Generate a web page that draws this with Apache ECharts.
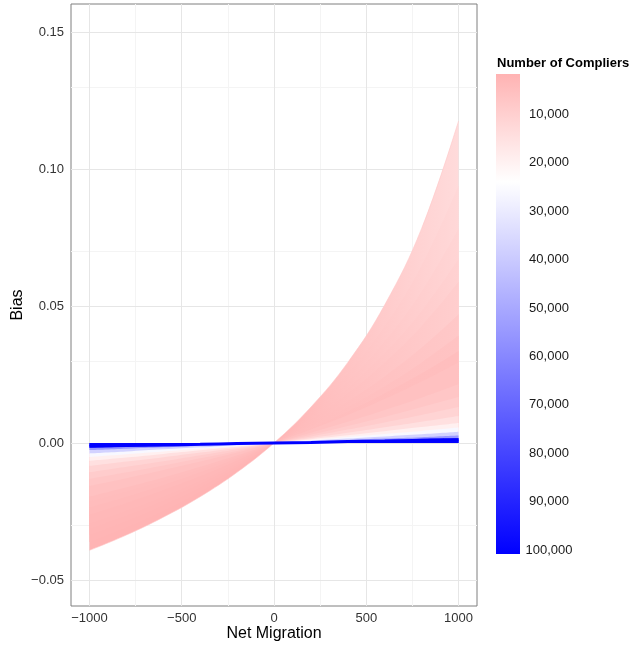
<!DOCTYPE html>
<html lang="en">
<head>
<meta charset="UTF-8">
<title>Bias by Net Migration</title>
<script src="https://cdn.jsdelivr.net/npm/echarts@6.0.0/dist/echarts.min.js"></script>
<style>
  html, body { margin: 0; padding: 0; background: #fff; }
  #main { width: 633px; height: 652px; }
</style>
</head>
<body>
<div id="main"></div>
<script>
// x values of every curve
var migration = [-1000, -800, -600, -400, -200, 0, 200, 400, 600, 800, 1000];
// one curve per number of compliers
var compliers = [2000, 2250, 2500, 2750, 3000, 3500, 4000, 4500, 5000, 6500, 8000, 10000, 13000, 17000, 22000, 30000, 45000, 65000, 100000];
// bias, one row per compliers value
var bias = [
    [-0.0392, -0.0336, -0.0271, -0.0196, -0.0107, 0, 0.0131, 0.0294, 0.0504, 0.0783, 0.1175],
    [-0.0362, -0.0308, -0.0247, -0.0177, -0.0096, 0, 0.0115, 0.0254, 0.0427, 0.0648, 0.0940],
    [-0.0336, -0.0285, -0.0227, -0.0162, -0.0087, 0, 0.0102, 0.0224, 0.0371, 0.0553, 0.0783],
    [-0.0313, -0.0265, -0.0210, -0.0149, -0.0080, 0, 0.0092, 0.0200, 0.0328, 0.0482, 0.0671],
    [-0.0294, -0.0247, -0.0196, -0.0138, -0.0073, 0, 0.0084, 0.0181, 0.0294, 0.0427, 0.0588],
    [-0.0261, -0.0219, -0.0172, -0.0121, -0.0064, 0, 0.0071, 0.0152, 0.0243, 0.0348, 0.0470],
    [-0.0235, -0.0196, -0.0153, -0.0107, -0.0056, 0, 0.0062, 0.0131, 0.0207, 0.0294, 0.0392],
    [-0.0214, -0.0177, -0.0138, -0.0096, -0.0050, 0, 0.0055, 0.0115, 0.0181, 0.0254, 0.0336],
    [-0.0196, -0.0162, -0.0126, -0.0087, -0.0045, 0, 0.0049, 0.0102, 0.0160, 0.0224, 0.0294],
    [-0.0157, -0.0129, -0.0099, -0.0068, -0.0035, 0, 0.0037, 0.0077, 0.0120, 0.0165, 0.0214],
    [-0.0131, -0.0107, -0.0082, -0.0056, -0.0029, 0, 0.0030, 0.0062, 0.0095, 0.0131, 0.0168],
    [-0.0107, -0.0087, -0.0067, -0.0045, -0.0023, 0, 0.0024, 0.0049, 0.0075, 0.0102, 0.0131],
    [-0.0084, -0.0068, -0.0052, -0.0035, -0.0018, 0, 0.0018, 0.0037, 0.0057, 0.0077, 0.0098],
    [-0.0065, -0.0053, -0.0040, -0.0027, -0.0014, 0, 0.0014, 0.0028, 0.0043, 0.0058, 0.0073],
    [-0.0051, -0.0041, -0.0031, -0.0021, -0.0011, 0, 0.0011, 0.0022, 0.0033, 0.0044, 0.0056],
    [-0.0038, -0.0031, -0.0023, -0.0016, -0.0008, 0, 0.0008, 0.0016, 0.0024, 0.0032, 0.0041],
    [-0.0026, -0.0021, -0.0016, -0.0010, -0.0005, 0, 0.0005, 0.0011, 0.0016, 0.0021, 0.0027],
    [-0.0018, -0.0014, -0.0011, -0.0007, -0.0004, 0, 0.0004, 0.0007, 0.0011, 0.0015, 0.0018],
    [-0.0012, -0.0009, -0.0007, -0.0005, -0.0002, 0, 0.0002, 0.0005, 0.0007, 0.0010, 0.0012]
];
var xTicks = [-1000, -500, 0, 500, 1000];
var xMinor = [-750, -250, 250, 750];
var yTicks = [-0.05, 0, 0.05, 0.10, 0.15];
var yMinor = [-0.025, 0.025, 0.075, 0.125];
var legendTicks = [10000, 20000, 30000, 40000, 50000, 60000, 70000, 80000, 90000, 100000];

// colour scale: pink -> white -> blue
var cbLow = 1742, cbMid = 24000, cbHigh = 100826;
function colorAt(n) {
    var v;
    if (n <= cbMid) {
        var t = Math.max(0, (n - cbLow) / (cbMid - cbLow));
        v = Math.round(179 + 76 * t);
        return 'rgb(255,' + v + ',' + v + ')';
    }
    var s = Math.min(1, (n - cbMid) / (cbHigh - cbMid));
    v = Math.round(255 * (1 - s));
    return 'rgb(' + v + ',' + v + ',255)';
}
function lighter(n, k) {
    var c = colorAt(n).match(/\d+/g).map(Number);
    return 'rgb(' + c.map(function (x) { return Math.round(x + (255 - x) * k); }).join(',') + ')';
}
function signed(v, d) {
    return (v < 0 ? '\u2212' : '') + Math.abs(v).toFixed(d);
}

var myChart = echarts.init(document.getElementById('main'));

var gridLines = [];
xMinor.forEach(function (v) { gridLines.push({xAxis: v, lineStyle: {color: '#F4F4F4', width: 1}}); });
yMinor.forEach(function (v) { gridLines.push({yAxis: v, lineStyle: {color: '#F4F4F4', width: 1}}); });
xTicks.forEach(function (v) { gridLines.push({xAxis: v, lineStyle: {color: '#E6E6E6', width: 1}}); });
yTicks.forEach(function (v) { gridLines.push({yAxis: v, lineStyle: {color: '#E6E6E6', width: 1}}); });

var series = [{
    type: 'line',
    data: [],
    z: 1,
    silent: true,
    markLine: {
        silent: true,
        z: 1,
        symbol: ['none', 'none'],
        label: {show: false},
        lineStyle: {type: 'solid'},
        data: gridLines
    }
}];

compliers.forEach(function (n, i) {
    var next = i < compliers.length - 1 ? compliers[i + 1] : n;
    var mid = (n + next) / 2;
    // the sparse top curves look lighter on the right side
    var k = Math.max(0, 0.55 * (1 - (mid - 2000) / 2800));
    var last = i === compliers.length - 1;
    series.push({
        type: 'line',
        name: String(n),
        data: migration.map(function (m, j) { return [m, bias[i][j]]; }),
        showSymbol: false,
        smooth: 0.4,
        z: 2,
        silent: true,
        lineStyle: {
            width: last ? 3 : (i === 0 ? 0.6 : 0),
            color: last ? '#0000FF' : lighter(mid, k * 0.5)
        },
        areaStyle: {
            opacity: 1,
            color: new echarts.graphic.LinearGradient(0, 0, 1, 0, [
                {offset: 0, color: colorAt(mid)},
                {offset: 0.5, color: colorAt(mid)},
                {offset: 1, color: lighter(mid, k)}
            ])
        }
    });
});

var option = {
    animation: false,
    backgroundColor: '#fff',
    textStyle: {fontFamily: 'Liberation Sans, Arial, sans-serif'},
    grid: [
        {left: 71, top: 4, width: 406, height: 602, show: true,
            borderColor: '#7F7F7F', borderWidth: 1, backgroundColor: 'transparent'},
        {left: 496, top: 66.1, width: 24, height: 483.9}
    ],
    xAxis: [{
        type: 'value',
        min: -1100,
        max: 1100,
        axisLine: {show: false},
        splitLine: {show: false},
        axisTick: {show: true, customValues: xTicks, length: 4, lineStyle: {color: '#333'}},
        axisLabel: {customValues: xTicks, margin: 6, fontSize: 13, color: '#333',
            formatter: function (v) { return signed(v, 0); }}
    }, {
        type: 'value', gridIndex: 1, min: 0, max: 1, show: false
    }],
    yAxis: [{
        type: 'value',
        min: -0.0595,
        max: 0.1602,
        axisLine: {show: false},
        splitLine: {show: false},
        axisTick: {show: true, customValues: yTicks, length: 4, lineStyle: {color: '#333'}},
        axisLabel: {customValues: yTicks, margin: 7, fontSize: 13, color: '#333',
            formatter: function (v) { return signed(v, 2); }}
    }, {
        type: 'value',
        gridIndex: 1,
        position: 'right',
        inverse: true,
        min: 0,
        max: 100000,
        interval: 10000,
        axisLine: {show: false},
        axisTick: {show: false},
        splitLine: {show: false},
        axisLabel: {margin: 29, align: 'center', fontSize: 13, color: '#1a1a1a',
            formatter: function (v) { return v === 0 ? '' : v.toLocaleString('en-US'); }}
    }],
    graphic: [
        {type: 'rect', shape: {x: 496, y: 74, width: 24, height: 480}, silent: true,
            style: {fill: new echarts.graphic.LinearGradient(0, 0, 0, 1, [
                {offset: 0, color: colorAt(cbLow)},
                {offset: (cbMid - cbLow) / (cbHigh - cbLow), color: '#FFFFFF'},
                {offset: 1, color: colorAt(cbHigh)}
            ])}},
        {type: 'text', left: 497, top: 57, silent: true,
            style: {text: 'Number of Compliers', font: 'bold 13px Liberation Sans, Arial, sans-serif', fill: '#000'}},
        {type: 'text', x: 18, y: 305, rotation: Math.PI / 2, silent: true,
            style: {text: 'Bias', font: '16px Liberation Sans, Arial, sans-serif', fill: '#000',
                align: 'center', verticalAlign: 'middle'}},
        {type: 'text', x: 274, y: 634, silent: true,
            style: {text: 'Net Migration', font: '16px Liberation Sans, Arial, sans-serif', fill: '#000',
                align: 'center', verticalAlign: 'middle'}}
    ],
    series: series
};

myChart.setOption(option);
</script>
</body>
</html>
